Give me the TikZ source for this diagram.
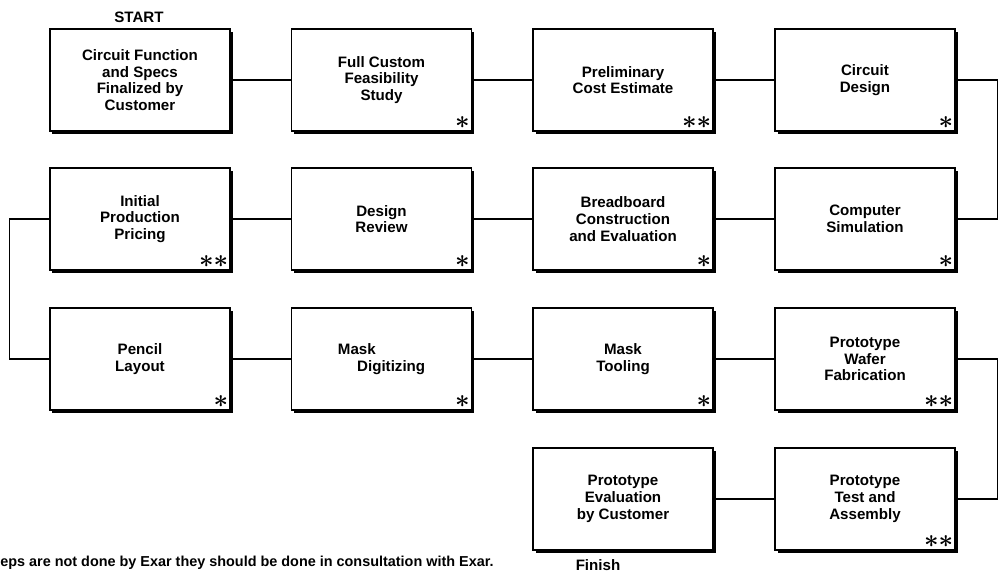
\documentclass[tikz,border=0pt]{standalone}
\usepackage{amsmath}
\usepackage{fontspec}
\newfontfamily\hv{Liberation Sans}
\usetikzlibrary{shadows}
\begin{document}
\begin{tikzpicture}[x=0.2mm, y=-0.2mm,
  stepbox/.style={draw, fill=white, line width=0.6pt, minimum width=36mm, minimum height=20.4mm,
    align=center, font=\hv\bfseries\fontsize{8.6}{9.5}\selectfont,
    drop shadow={shadow xshift=0.5mm, shadow yshift=-0.5mm, opacity=1, fill=black}},
  starlbl/.style={anchor=south east, inner sep=0pt, xshift=-0.4mm, yshift=0.6mm, font=\fontsize{14.5}{14.5}\selectfont},
  onestar/.style={label={[starlbl]south east:$\boldsymbol{\ast}$}},
  twostar/.style={label={[starlbl]south east:$\boldsymbol{{\ast}{\ast}}$}},
  link/.style={line width=0.6pt}]
\useasboundingbox (0,0) rectangle (1000,572);
% row 1
\node[stepbox] (cfs) at (140,80) {Circuit Function\\and Specs\\Finalized by\\Customer};
\node[stepbox, onestar] (fcf) at (381.5,80) {Full Custom\\Feasibility\\Study};
\node[stepbox, twostar] (pce) at (623,80) {Preliminary\\Cost Estimate};
\node[stepbox, onestar] (cdes) at (865,80) {Circuit\\Design};
% row 2
\node[stepbox, twostar] (ipp) at (140,219) {Initial\\Production\\Pricing};
\node[stepbox, onestar] (drev) at (381.5,219) {Design\\Review};
\node[stepbox, onestar] (bbce) at (623,219) {Breadboard\\Construction\\and Evaluation};
\node[stepbox, onestar] (csim) at (865,219) {Computer\\Simulation};
% row 3
\node[stepbox, onestar] (pen) at (140,359) {Pencil\\Layout};
\node[stepbox, onestar] (mdig) at (381.5,359) {Mask\hspace*{28pt}\\\hspace*{11pt}Digitizing};
\node[stepbox, onestar] (mtool) at (623,359) {Mask\\Tooling};
\node[stepbox, twostar] (pwf) at (865,359) {Prototype\\Wafer\\Fabrication};
% row 4
\node[stepbox] (pev) at (623,499) {Prototype\\Evaluation\\by Customer};
\node[stepbox, twostar] (pta) at (865,499) {Prototype\\Test and\\Assembly};
% texts
\node[font=\hv\bfseries\fontsize{8.6}{9.5}\selectfont] (start) at (139,17) {START};
\node[font=\hv\bfseries\fontsize{8.6}{9.5}\selectfont] (fin) at (598,565) {Finish};
\node[anchor=west, inner sep=0pt, font=\hv\bfseries\fontsize{8.2}{9}\selectfont] (note) at (0,563) {eps are not done by Exar they should be done in consultation with Exar.};
% connectors
\draw[link] (cfs) -- (fcf) (fcf) -- (pce) (pce) -- (cdes);
\draw[link] (cdes.east) -- ++(42,0) |- (csim.east);
\draw[link] (csim) -- (bbce) (bbce) -- (drev) (drev) -- (ipp);
\draw[link] (ipp.west) -- ++(-40,0) |- (pen.west);
\draw[link] (pen) -- (mdig) (mdig) -- (mtool) (mtool) -- (pwf);
\draw[link] (pwf.east) -- ++(42,0) |- (pta.east);
\draw[link] (pta) -- (pev);
\end{tikzpicture}
\end{document}
